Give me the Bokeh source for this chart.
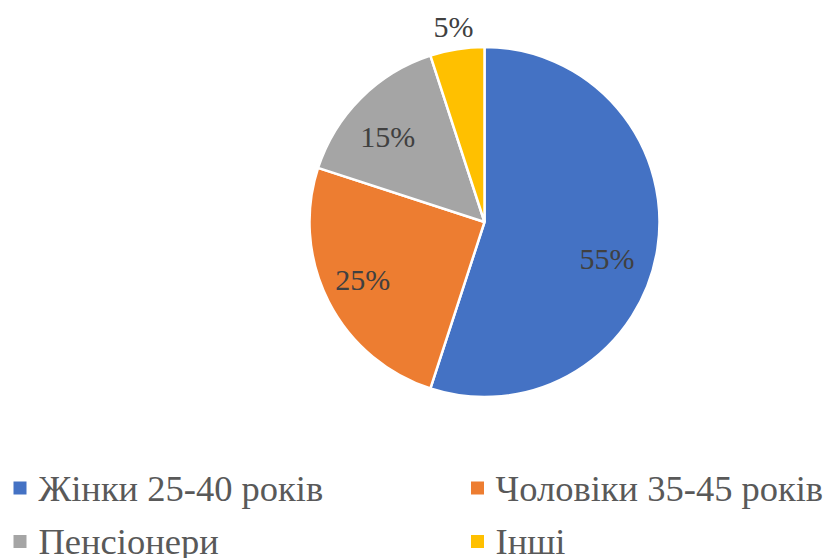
import math
from bokeh.plotting import figure
from bokeh.models import Range1d, ColumnDataSource
from bokeh.core.properties import value
from bokeh.embed import file_html
from bokeh.resources import INLINE

# ---- data ----
categories = ["Жінки 25-40 років", "Чоловіки 35-45 років", "Пенсіонери", "Інші"]
shares = [55, 25, 15, 5]
pct_labels = ["55%", "25%", "15%", "5%"]
colors = ["#4472C4", "#ED7D31", "#A5A5A5", "#FFC000"]

# ---- layout (reference pixel frame, y measured downward) ----
W, H = 831, 558
CX, CY, R = 484, 221.5, 175
label_r = [0.73, 0.77, 0.74, 1.13]
label_shift = [-7.4, -1.6, 3.4, 0.0]
SERIF = "Liberation Serif"

def up(yref):
    return H - yref

p = figure(width=W, height=H, output_backend="svg", toolbar_location=None,
           x_range=Range1d(0, W), y_range=Range1d(0, H),
           min_border=0, outline_line_color=None)
p.axis.visible = False
p.grid.visible = False
p.background_fill_color = "white"
p.border_fill_color = "white"

total = sum(shares)
starts, ends, mids = [], [], []
cum = 0.0
for s in shares:
    a0 = math.pi / 2 - 2 * math.pi * cum / total
    cum += s
    a1 = math.pi / 2 - 2 * math.pi * cum / total
    starts.append(a0)
    ends.append(a1)
    mids.append((a0 + a1) / 2)

src = ColumnDataSource(dict(start=starts, end=ends, color=colors))
p.wedge(x=CX, y=up(CY), radius=R, start_angle="start", end_angle="end",
        direction="clock", fill_color="color", line_color="white", line_width=2.5,
        source=src)

lx, ly = [], []
for m, rf, sh in zip(mids, label_r, label_shift):
    a = m + math.radians(sh)
    lx.append(CX + rf * R * math.cos(a))
    ly.append(up(CY) + rf * R * math.sin(a))
p.text(x=lx, y=ly, text=pct_labels, text_font=value(SERIF),
       text_font_size=value("30px"), text_color="#404040",
       text_align="center", text_baseline="middle")

# legend (2 columns x 2 rows)
sq_x = [19.5, 477]
tx_x = [38, 495]
row_mid = [487.5, 541]
leg_sx, leg_sy, leg_tx, leg_ty = [], [], [], []
for i in range(len(categories)):
    c, r = i % 2, i // 2
    leg_sx.append(sq_x[c]); leg_sy.append(up(row_mid[r]))
    leg_tx.append(tx_x[c]); leg_ty.append(up(row_mid[r]))
p.scatter(x=leg_sx, y=leg_sy, marker="square", size=13, fill_color=colors, line_color=None)
p.text(x=leg_tx, y=leg_ty, text=categories, text_font=value(SERIF),
       text_font_size=value("36.5px"), text_color="#595959",
       text_align="left", text_baseline="middle")

open("out.html", "w").write(file_html(p, INLINE))
